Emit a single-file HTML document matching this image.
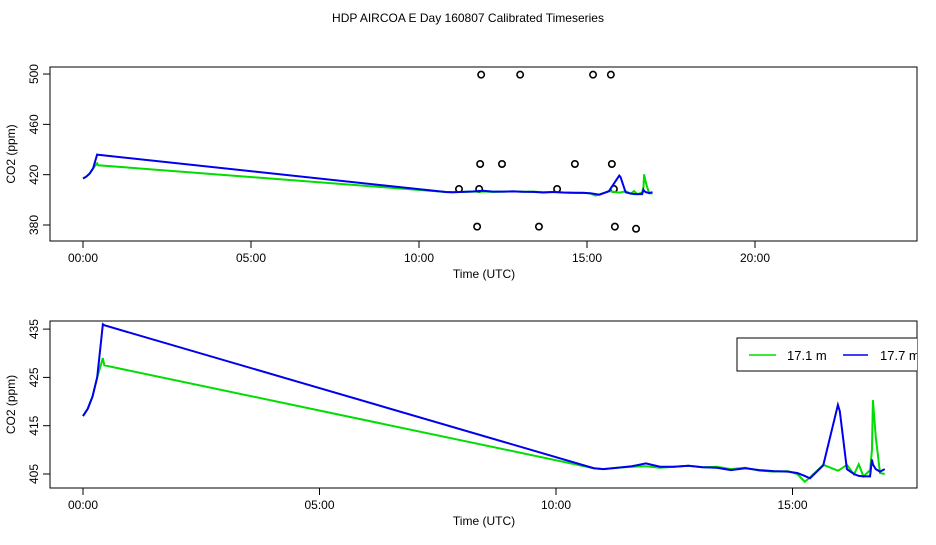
<!DOCTYPE html>
<html><head><meta charset="utf-8"><style>
body{margin:0;background:#fff}
svg text{font-family:"Liberation Sans",sans-serif;font-size:12px;fill:#000}
</style></head><body>
<svg id="c" width="936" height="540" xmlns="http://www.w3.org/2000/svg">
<text x="468" y="22" text-anchor="middle">HDP AIRCOA E  Day 160807  Calibrated Timeseries</text>
</svg>
<script>
const times=[0,0.1,0.2,0.3,0.42,0.45,10.8,11.0,11.3,11.6,11.9,12.2,12.5,12.8,13.1,13.4,13.7,14.0,14.3,14.6,14.9,15.1,15.26,15.37,15.65,15.96,16.0,16.15,16.3,16.4,16.5,16.64,16.68,16.7,16.76,16.85,16.95];
const green=[417,418.5,421,425,429,427.5,406.2,406,406.3,406.5,406.6,406.3,406.5,406.7,406.4,406.5,406,406.3,405.7,405.5,405.6,405,403.4,404.3,406.9,405.7,405.9,406.9,404.9,407,404.5,405.8,410,420.3,412.7,405.2,405];
const blue=[417,418.5,421,425,436,435.8,406.2,406,406.3,406.6,407.2,406.5,406.5,406.7,406.4,406.3,405.8,406.2,405.8,405.6,405.5,405.2,404.6,404.1,406.8,419.3,418,406,405,404.6,404.5,404.5,408,407,406,405.5,406];
const calT=[11.85,13.01,15.18,15.71,11.82,12.47,14.64,15.74,11.19,11.79,14.11,15.80,11.73,13.57,15.83,16.46];
const calV=[499.5,499.5,499.5,499.5,428.5,428.5,428.5,428.5,408.6,408.6,408.6,408.6,378.7,378.7,378.7,377];
const topXTicks=[0,5,10,15,20];
const topYTicks=[380,420,460,500];
const botXTicks=[0,5,10,15];
const botYTicks=[405,415,425,435];
const xLabels={0:"00:00",5:"05:00",10:"10:00",15:"15:00",20:"20:00"};

const svg=document.getElementById('c');
const NS="http://www.w3.org/2000/svg";
function mk(tag,attrs,parent){const e=document.createElementNS(NS,tag);for(const k in attrs)e.setAttribute(k,attrs[k]);(parent||svg).appendChild(e);return e;}

function panel(name,box,xs,ys,xt,yt,showCal){
  const g=mk('g',{});
  
  
  const r=mk('rect',{x:box.x0,y:box.y0,width:box.x1-box.x0,height:box.y1-box.y0,fill:'none',stroke:'#000'},g);
  
  
  xt.forEach(t=>{const x=xs(t);
    const l=mk('line',{x1:x,x2:x,y1:box.y1,y2:box.y1+7,stroke:'#000'},g);
    
    
    const tx=mk('text',{x:x,y:box.y1+21,'text-anchor':'middle'},g);tx.textContent=xLabels[t];
    
    
  });
  yt.forEach(v=>{const y=ys(v);
    const l=mk('line',{x1:box.x0-7,x2:box.x0,y1:y,y2:y,stroke:'#000'},g);
    
    
    const tx=mk('text',{x:0,y:0,'text-anchor':'middle',transform:`translate(${box.x0-12},${y}) rotate(-90)`},g);tx.textContent=v;
    
    
  });
  const xl=mk('text',{x:(xs(0)+box.x1)/2- (name==='top-panel'?0:0),y:box.y1+37,'text-anchor':'middle'},g);xl.textContent='Time (UTC)';
  xl.setAttribute('x',484);
  
  
  const yl=mk('text',{x:0,y:0,'text-anchor':'middle',transform:`translate(15,${(box.y0+box.y1)/2}) rotate(-90)`},g);yl.textContent='CO2 (ppm)';
  
  
  const cp='clip-'+name;
  const cl=mk('clipPath',{id:cp},g);mk('rect',{x:box.x0,y:box.y0,width:box.x1-box.x0,height:box.y1-box.y0},cl);
  if(showCal){calT.forEach((t,i)=>{
    const c=mk('circle',{cx:xs(t),cy:ys(calV[i]),r:3.2,fill:'none',stroke:'#000','stroke-width':1.6},g);
    
    
  });}
  const pg=mk('polyline',{points:times.map((t,i)=>xs(t)+','+ys(green[i])).join(' '),fill:'none',stroke:'#00dd00','stroke-width':2,'clip-path':`url(#${cp})`},g);
  
  
  const pb=mk('polyline',{points:times.map((t,i)=>xs(t)+','+ys(blue[i])).join(' '),fill:'none',stroke:'#0000ee','stroke-width':2,'clip-path':`url(#${cp})`},g);
  
  
  return g;
}
panel('top-panel',{x0:50,x1:917,y0:67,y1:241},t=>83+t*33.6,v=>225-(v-380)*1.258,topXTicks,topYTicks,true);
const bg=panel('bottom-panel',{x0:50,x1:917,y0:321,y1:488},t=>83+t*47.3,v=>474-(v-405)*4.83,botXTicks,botYTicks,false);

const lg=mk('g',{});


const lcp=mk('clipPath',{id:'lgclip'},lg);mk('rect',{x:0,y:0,width:917,height:540},lcp);
const lgi=mk('g',{'clip-path':'url(#lgclip)'},lg);
mk('rect',{x:737,y:338,width:200,height:33,fill:'#fff',stroke:'#000'},lgi);
const l1=mk('line',{x1:749,x2:776,y1:355,y2:355,stroke:'#00dd00','stroke-width':1.5},lgi);


const t1=mk('text',{x:787,y:360,style:'font-size:13px'},lgi);t1.textContent='17.1 m';


const l2=mk('line',{x1:843,x2:868,y1:355,y2:355,stroke:'#0000ee','stroke-width':1.5},lgi);


const t2=mk('text',{x:880,y:360,style:'font-size:13px'},lgi);t2.textContent='17.7 m';


</script>
</body></html>
